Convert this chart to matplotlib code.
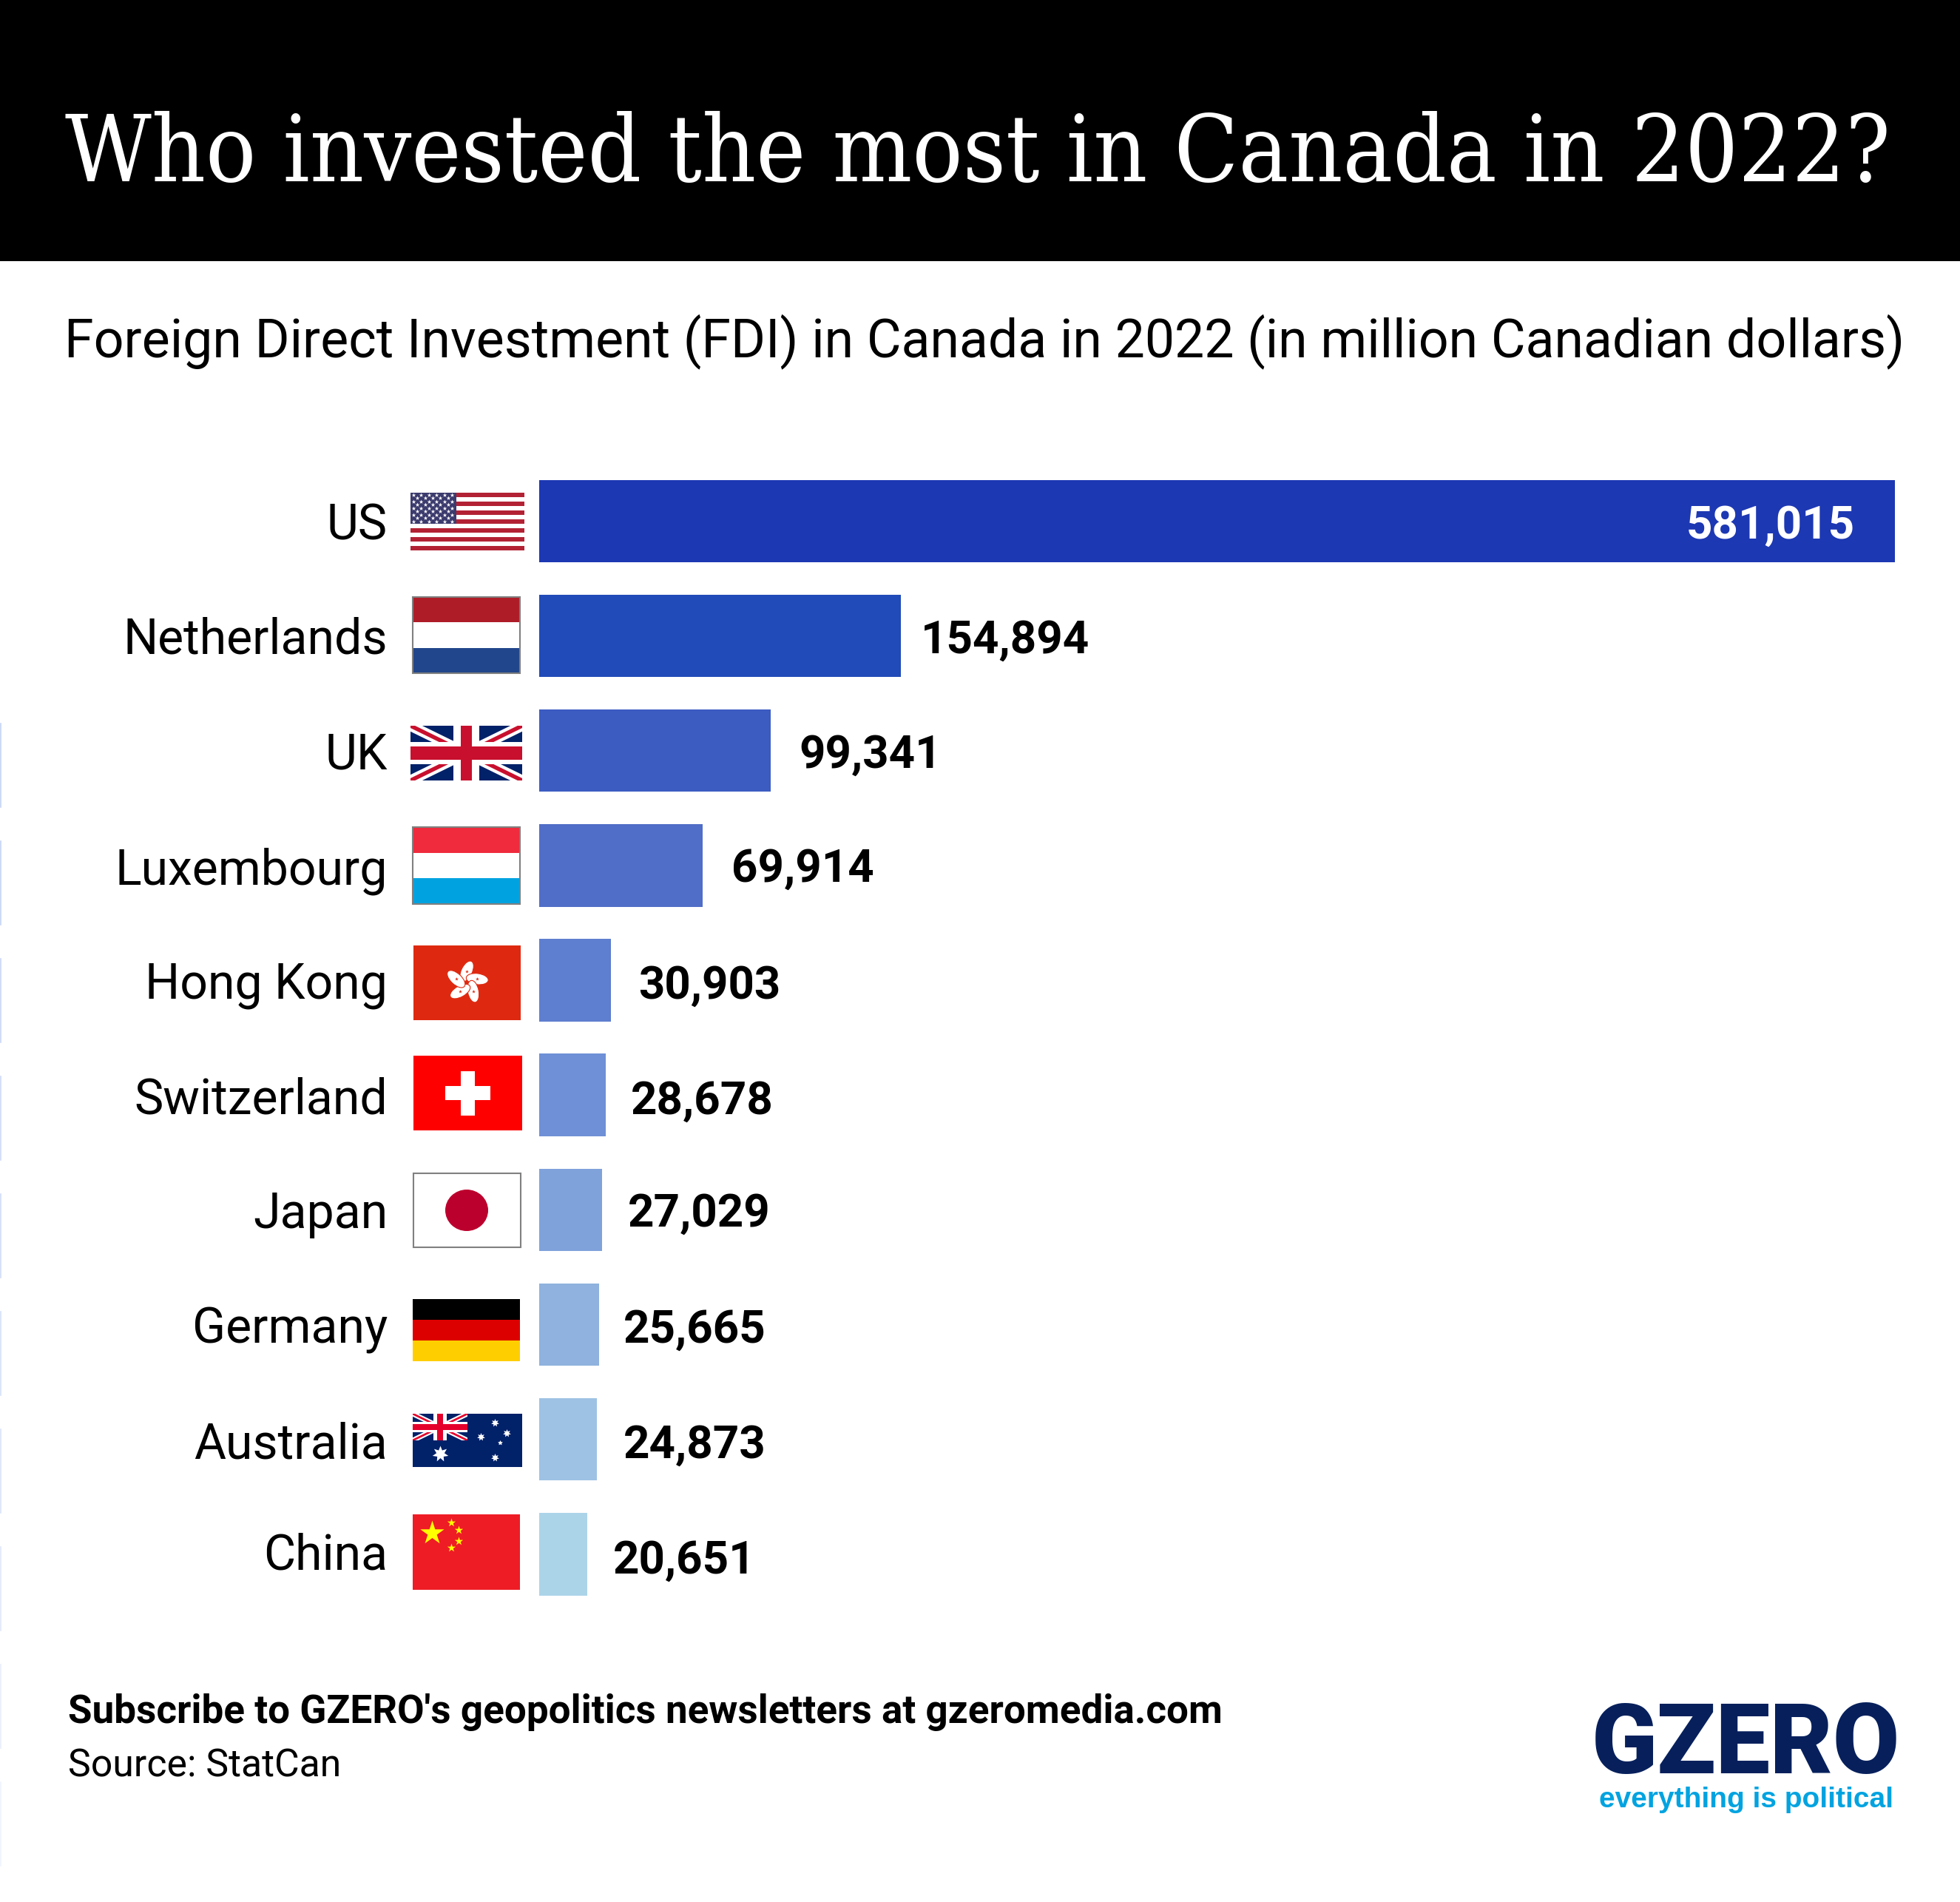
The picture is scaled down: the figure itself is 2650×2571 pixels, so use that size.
import math
import matplotlib
matplotlib.use("Agg")
import matplotlib.pyplot as plt
from matplotlib.patches import Rectangle, Ellipse

# チャートの値
countries = ["US", "Netherlands", "UK", "Luxembourg", "Hong Kong", "Switzerland",
             "Japan", "Germany", "Australia", "China"]
fdi_values = [581015, 154894, 99341, 69914, 30903, 28678, 27029, 25665, 24873, 20651]
bar_colors = ["#1d38b3", "#214bb8", "#3c5cc2", "#506ec7", "#5e7ecf",
              "#6f90d6", "#7fa2db", "#8fb2de", "#9ec2e4", "#acd4e9"]

# テキスト位置（ピクセル）
label_base = [729, 884, 1039, 1195, 1350, 1505, 1660, 1815, 1971, 2122]
value_left = [2280, 1245, 1080, 989, 863, 853, 849, 843, 843, 829]
value_base = [728, 883, 1038, 1192, 1350, 1506, 1658, 1815, 1971, 2127]

# 左端の薄い線の色
edge_colors = ["#c5d3f5", "#c5d3f5", "#c9d6f6", "#cdd9f6", "#d1dcf7",
               "#d6e0f8", "#dae3f8", "#e0e8fa", "#e8eefb", "#eff4fd"]

W, H = 2650, 2571
NAVY = "#012169"
RED = "#c8102e"

fig = plt.figure(figsize=(W / 100, H / 100), dpi=100, facecolor="white")

# 棒グラフの軸
top, bottom = 626.7, 2178.4
ax = fig.add_axes([729 / W, 1 - bottom / H, 1833 / W, (bottom - top) / H])
ax.barh(range(len(countries)), fdi_values, height=0.718, color=bar_colors)
ax.set_xlim(0, max(fdi_values))
ax.set_ylim(9.5, -0.5)
ax.axis("off")

# ピクセル座標のオーバーレイ（棒の上に描く）
px = fig.add_axes([0, 0, 1, 1])
px.set_xlim(0, W)
px.set_ylim(H, 0)
px.axis("off")


def box(x0, y0, x1, y1, color, edge=None, z=2):
    r = Rectangle((x0, y0), x1 - x0, y1 - y0, facecolor=color, edgecolor=edge or "none",
                  linewidth=1.5 if edge else 0, zorder=z)
    px.add_patch(r)
    return r


def stripes(x0, y0, x1, y1, colors, edge=None):
    h = (y1 - y0) / len(colors)
    for i, c in enumerate(colors):
        box(x0, y0 + i * h, x1, y0 + (i + 1) * h, c)
    if edge:
        box(x0, y0, x1, y1, "none", edge=edge, z=3)


def stars(xs, ys, size, color="white", marker="*", z=5):
    px.scatter(xs, ys, s=(size * 0.72) ** 2, c=color, marker=marker, linewidths=0, zorder=z)


def union_jack(x0, y0, x1, y1, navy=NAVY, red=RED):
    w, h = x1 - x0, y1 - y0
    clip = box(x0, y0, x1, y1, navy, z=3)
    k = h / 66
    for (a, b), (c, d) in [((x0, y0), (x1, y1)), ((x0, y1), (x1, y0))]:
        for lw, col in [(9, "white"), (3.5, red)]:
            line, = px.plot([a, c], [b, d], color=col, lw=lw * k, solid_capstyle="butt", zorder=3)
            line.set_clip_path(clip)
    cx, cy = x0 + w / 2, y0 + h / 2
    box(cx - w * 0.115, y0, cx + w * 0.115, y1, "white", z=3)
    box(x0, cy - h * 0.2, x1, cy + h * 0.2, "white", z=3)
    box(cx - w * 0.05, y0, cx + w * 0.05, y1, red, z=3)
    box(x0, cy - h * 0.115, x1, cy + h * 0.115, red, z=3)


# 米国
stripes(555, 665.5, 709, 744, ["#b22234", "white"] * 6 + ["#b22234"])
box(555, 665.5, 616.5, 708, "#3c3b6e", z=3)
sx, sy = [], []
for row in range(9):
    n = 6 if row % 2 == 0 else 5
    off = 0 if row % 2 == 0 else 0.5
    for col in range(n):
        sx.append(559 + (col + off) * 10.4)
        sy.append(668.5 + row * 4.5)
stars(sx, sy, 6)

# オランダ
stripes(558, 807, 703, 910, ["#ae1c28", "white", "#21468b"], edge="#808080")
# 英国
union_jack(555, 981, 706, 1055)
# ルクセンブルク
stripes(558, 1118, 703, 1221.5, ["#ef2b3d", "white", "#00a3e0"], edge="#808080")

# 香港
box(559, 1278, 704, 1379, "#de2910")
hx, hy = 631, 1328
for ang in [-90, -18, 54, 126, 198]:
    t = math.radians(ang)
    px.add_patch(Ellipse((hx + 15 * math.cos(t), hy + 15 * math.sin(t)), 30, 15, angle=ang + 25,
                         facecolor="white", edgecolor="#de2910", linewidth=0.8, zorder=3))
    stars([hx + 15 * math.cos(t)], [hy + 15 * math.sin(t)], 5, color="#de2910")

# スイス
box(559, 1427, 706, 1528, "#ff0000")
box(602, 1468, 663, 1487, "white", z=3)
box(623, 1447.5, 642, 1507.5, "white", z=3)

# 日本
box(559, 1586, 704, 1686, "white", edge="#808080")
px.add_patch(Ellipse((631, 1636), 58, 56, facecolor="#bc002d", edgecolor="none", zorder=3))

# ドイツ
stripes(558, 1755.5, 703, 1840, ["black", "#dd0000", "#ffce00"])

# オーストラリア
box(558, 1911, 706, 1983, "#012169")
union_jack(558, 1911, 632, 1947, navy="#012169", red="#e4002b")
stars([595], [1965], 22, marker=(7, 1, 0))
stars([669, 650, 685, 669], [1923, 1942, 1937, 1970], 11, marker=(7, 1, 0))
stars([676], [1949.5], 7, marker=(5, 1, 0))

# 中国
box(558, 2047, 703, 2149, "#ee1c25")
stars([583.5], [2072], 34, color="#ffff00")
stars([610, 620, 620, 610], [2058, 2068, 2083, 2092], 12, color="#ffff00")

# 左端の薄い線
for i, c in enumerate(edge_colors):
    px.plot([0.8, 0.8], [978 + i * 159, 1091 + i * 159], color=c, lw=1.2)

# ヘッダー
box(0, 0, W, 353, "black", z=1)
px.text(88, 245, "Who invested the most in Canada in 2022?", color="white", fontsize=91,
        family="DejaVu Serif", stretch="condensed", va="baseline", ha="left")
px.text(87, 482, "Foreign Direct Investment (FDI) in Canada in 2022 (in million Canadian dollars)",
        color="black", fontsize=51.6, family="Roboto", va="baseline", ha="left")

# ラベルと値
for i, name in enumerate(countries):
    px.text(524, label_base[i], name, fontsize=47.6, family="Roboto", ha="right", va="baseline", color="black")
    color = "white" if i == 0 else "black"
    px.text(value_left[i], value_base[i], f"{fdi_values[i]:,}", fontsize=44.6, family="Roboto", weight="bold",
            ha="left", va="baseline", color=color, zorder=6)

# フッター
px.text(92, 2329, "Subscribe to GZERO's geopolitics newsletters at gzeromedia.com", fontsize=38.2,
        family="Roboto", weight="bold", va="baseline", color="black")
px.text(92, 2401, "Source: StatCan", fontsize=37.3, family="Roboto", va="baseline", color="black")

# ロゴ
px.text(2360, 2397, "GZERO", fontsize=94, family="Roboto", weight=900, ha="center", va="baseline", color="#07205c")
px.text(2361, 2443, "everything is political", fontsize=28, family="Liberation Sans", weight="bold",
        ha="center", va="baseline", color="#00a3e0")

plt.savefig("out.png", dpi=100)
